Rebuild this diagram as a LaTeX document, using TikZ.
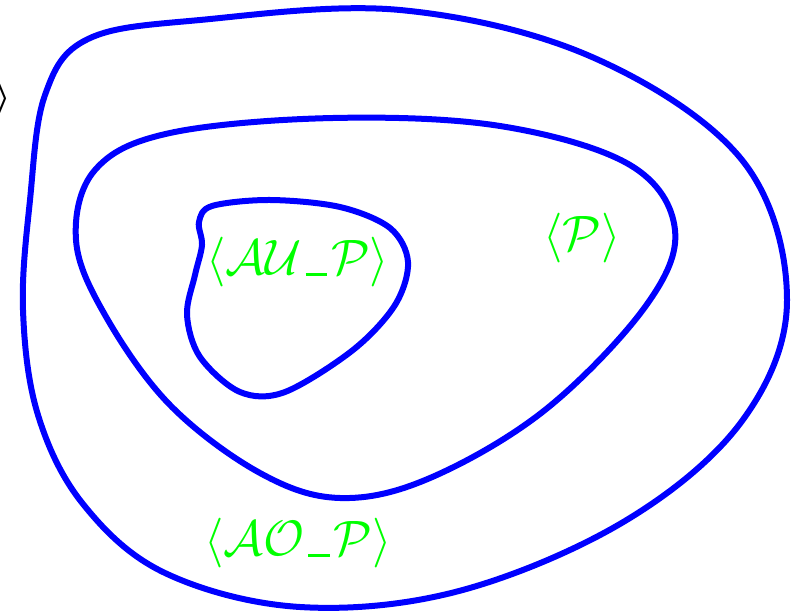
\documentclass[tikz,border=0pt]{standalone}
\begin{document}
\begin{tikzpicture}[x=0.5pt,y=-0.5pt,
  region/.style={draw={rgb,255:red,0;green,0;blue,255},line width=3pt,line join=round},
  setlabel/.style={text={rgb,255:red,0;green,255;blue,0},inner sep=0pt,font=\fontsize{32}{34}\selectfont}]
\newcommand{\usc}{\mathord{\kern.06em\rule[-0.03em]{.34em}{.06em}\kern.06em}}
\useasboundingbox (0,0) rectangle (792,614);
% outer region
\draw[region] plot[smooth cycle,tension=0.6] coordinates {
 (23,310) (30,200) (45,95) (88,39) (200,20) (400,10) (592,57) (742,160)
 (787,300) (742,421) (625,521) (459,591) (300,607) (165,573) (83,504) (38,415)};
% middle region
\draw[region] plot[smooth cycle,tension=0.6] coordinates {
 (76,240) (95,170) (170,133) (333,118) (500,126) (630,165) (675,230)
 (645,307) (545,410) (430,478) (340,498) (260,473) (170,405) (105,315)};
% inner region
\draw[region] plot[smooth cycle,tension=0.55] coordinates {
 (199,222) (212,206) (270,200) (340,207) (390,228) (408,262) (395,305)
 (353,350) (285,392) (240,392) (200,357) (187,315) (195,275) (202,245)};
\node[setlabel] (au) at (298,262) {$\langle\mathcal{A}\mathcal{U}\usc\mathcal{P}\rangle$};
\node[setlabel] (p) at (582,238) {$\langle\mathcal{P}\rangle$};
\node[setlabel] (ao) at (298,543) {$\langle\mathcal{A}\mathcal{O}\usc\mathcal{P}\rangle$};
\node[inner sep=0pt,anchor=east,font=\fontsize{17}{18}\selectfont\boldmath] (cut) at (11,99) {$\rangle$};
\end{tikzpicture}
\end{document}
